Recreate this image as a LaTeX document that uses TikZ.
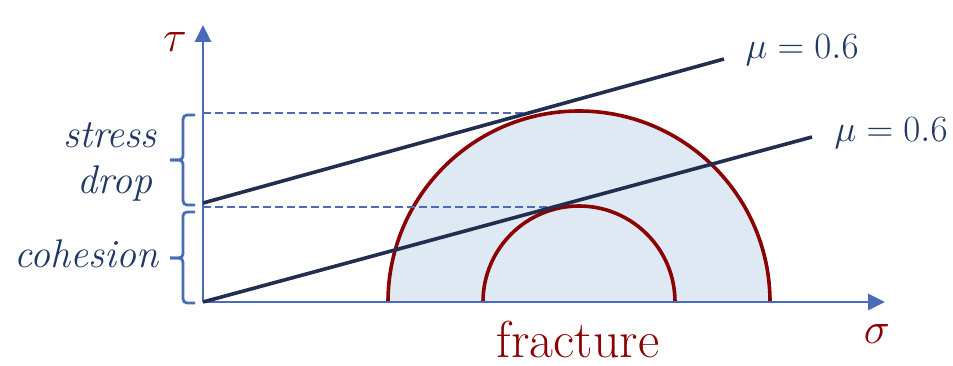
\RequirePackage{fix-cm}
\documentclass[tikz,border=0pt]{standalone}
\usepackage{fontspec}
\usetikzlibrary{arrows.meta}
\definecolor{axisblue}{HTML}{4A6CB8}
\definecolor{navyline}{HTML}{222E50}
\definecolor{labelblue}{HTML}{1F3864}
\definecolor{darkred}{HTML}{8B0000}
\definecolor{mohrfill}{HTML}{DFE9F4}
\begin{document}
\begin{tikzpicture}[x=1pt,y=-1pt,
  axisline/.style={draw=axisblue, line width=2.8pt, -{Triangle[width=16pt,length=17pt]}},
  envelope/.style={draw=navyline, line width=3.6pt},
  mohr/.style={draw=darkred, line width=3.6pt},
  levelline/.style={draw=axisblue, line width=2.4pt, dash pattern=on 8pt off 4pt},
  bracket/.style={draw=axisblue, line width=2.8pt, rounded corners=4pt},
  sidelabel/.style={text=labelblue, font=\fontsize{40}{48}\selectfont\itshape, anchor=base, inner sep=0pt},
  mulabel/.style={text=labelblue, font=\fontsize{37}{44}\selectfont, anchor=base, inner sep=0pt},
  axislabel/.style={text=darkred, font=\fontsize{44}{52}\selectfont, anchor=base, inner sep=0pt}]
\useasboundingbox (0,0) rectangle (953,366);
% key points
\coordinate (O) at (203,302);
\coordinate (Ytop) at (203,25);
\coordinate (Xend) at (885,302);
\coordinate (A1) at (203,203);
\coordinate (B1) at (724,59);
\coordinate (B2) at (812,137);
\coordinate (T1) at (527,113);
\coordinate (T2) at (551,207);
\coordinate (L1) at (203,113);
\coordinate (L2) at (203,207);
% Mohr circles
\fill[mohrfill] (388,302) arc[start angle=180, end angle=360, radius=191] -- cycle;
\draw[mohr] (388,302) arc[start angle=180, end angle=360, radius=191];
\draw[mohr] (483,302) arc[start angle=180, end angle=360, radius=96];
% level lines
\draw[levelline] (L1) -- (T1);
\draw[levelline] (L2) -- (T2);
% axes
\draw[axisline] (O) -- (Ytop);
\draw[axisline] (O) -- (Xend);
% envelopes
\draw[envelope] (A1) -- (B1);
\draw[envelope] (O) -- (B2);
% brackets
\draw[bracket] (195,115) -- (183,115) -- (183,160) -- (170,160);
\draw[bracket] (195,205) -- (183,205) -- (183,160) -- (170,160);
\draw[bracket] (195,212) -- (183,212) -- (183,258) -- (170,258);
\draw[bracket] (195,303) -- (183,303) -- (183,258) -- (170,258);
% labels
\node[sidelabel] (stress) at (110,148) {stress};
\node[sidelabel] (drop) at (115,194) {drop};
\node[sidelabel] (cohesion) at (86,267) {cohesion};
\node[mulabel] (mu1) at (802,59) {$\mu=0.6$};
\node[mulabel] (mu2) at (891,142) {$\mu=0.6$};
\node[axislabel] (tau) at (175,52) {$\tau$};
\node[axislabel] (sigma) at (877,343) {$\sigma$};
\node[text=darkred, font=\fontsize{52}{60}\selectfont, anchor=base, inner sep=0pt] (fracture) at (578,357) {fracture};
\end{tikzpicture}
\end{document}
